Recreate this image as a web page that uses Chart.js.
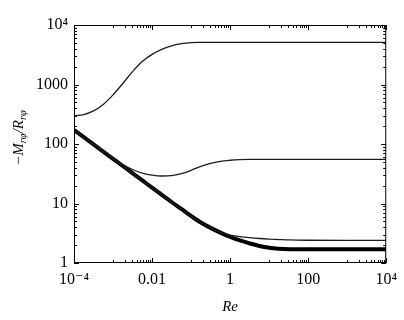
<!DOCTYPE html>
<html>
<head>
<meta charset="utf-8">
<script src="https://cdn.jsdelivr.net/npm/chart.js@4"></script>
<style>
  html, body { margin: 0; padding: 0; background: #fff; }
  #wrap { width: 404px; height: 320px; }
</style>
</head>
<body>
<div id="wrap"><canvas id="chart"></canvas></div>
<script>
// Reynolds number samples (shared by all curves)
const reValues = [1e-4, 1.78e-4, 3.16e-4, 5.62e-4, 1e-3, 1.78e-3, 3.16e-3, 5.62e-3,
    0.01, 0.0178, 0.0316, 0.0562, 0.1, 0.178, 0.316, 0.562,
    1, 1.78, 3.16, 5.62, 10, 17.8, 31.6, 100, 1000, 1e4];

// -M/R for each curve
const upperCurve = [299, 313, 360, 463, 670, 1038, 1644, 2432,
    3206, 3899, 4477, 4853, 5058, 5110, 5120, 5120,
    5120, 5120, 5120, 5120, 5120, 5120, 5120, 5120, 5120, 5120];
const middleCurve = [172, 130, 99, 76.4, 57.5, 45.2, 37.3, 32.5,
    30.0, 29.0, 29.4, 31.8, 36.1, 41.9, 47.3, 51.2,
    53.3, 54.6, 55.2, 55.3, 55.3, 55.3, 55.3, 55.3, 55.3, 55.3];
const lowerCurve = [172, 130, 98.4, 74.5, 56.4, 42.7, 32.3, 24.4,
    18.5, 14.0, 10.6, 8.1, 6.17, 4.79, 3.89, 3.26,
    2.95, 2.77, 2.66, 2.58, 2.52, 2.48, 2.44, 2.41, 2.40, 2.40];
const thickCurve = [172, 130, 98.4, 74.5, 56.4, 42.7, 32.3, 24.4,
    18.5, 14.0, 10.6, 8.1, 6.17, 4.79, 3.89, 3.24,
    2.75, 2.40, 2.14, 1.93, 1.80, 1.74, 1.71, 1.70, 1.70, 1.70];

// axis ticks
const xTicks = [1e-4, 1e-2, 1, 100, 1e4];
const xTickLabels = ['10⁻⁴', '0.01', '1', '100', '10⁴'];
const xMinorTicks = [1e-3, 2e-3, 3e-3, 4e-3, 5e-3, 6e-3, 7e-3, 8e-3, 9e-3,
    0.1, 0.2, 0.3, 0.4, 0.5, 0.6, 0.7, 0.8, 0.9,
    10, 20, 30, 40, 50, 60, 70, 80, 90,
    1000, 2000, 3000, 4000, 5000, 6000, 7000, 8000, 9000];
const yTicks = [1, 10, 100, 1000, 1e4];
const yTickLabels = ['1', '10', '100', '1000', '10⁴'];
const yMinorTicks = [2, 3, 4, 5, 6, 7, 8, 9,
    20, 30, 40, 50, 60, 70, 80, 90,
    200, 300, 400, 500, 600, 700, 800, 900,
    2000, 3000, 4000, 5000, 6000, 7000, 8000, 9000];

const SERIF = '"Liberation Serif", "DejaVu Serif", serif';

const toPoints = (ys) => ys.map((y, i) => ({ x: reValues[i], y: y }));

const curve = (ys, width) => ({
    data: toPoints(ys),
    borderColor: width > 2 ? '#000' : '#1c1c1c',
    borderWidth: width,
    pointRadius: 0,
    fill: false,
    cubicInterpolationMode: 'monotone'
});

// frame, inward ticks on all four sides, and the y axis title with subscripts
const framePlugin = {
    id: 'frame',
    afterDraw(chart) {
        const { ctx, chartArea: a, scales: { x, y } } = chart;
        ctx.save();
        ctx.strokeStyle = '#000';
        ctx.lineWidth = 1;
        ctx.strokeRect(a.left + 0.5, a.top + 0.5, a.right - a.left - 1, a.bottom - a.top - 1);

        ctx.beginPath();
        const vTick = (v, len) => {
            const px = Math.round(x.getPixelForValue(v)) + 0.5;
            ctx.moveTo(px, a.bottom); ctx.lineTo(px, a.bottom - len);
            ctx.moveTo(px, a.top); ctx.lineTo(px, a.top + len);
        };
        const hTick = (v, len) => {
            const py = Math.round(y.getPixelForValue(v)) + 0.5;
            ctx.moveTo(a.left, py); ctx.lineTo(a.left + len, py);
            ctx.moveTo(a.right, py); ctx.lineTo(a.right - len, py);
        };
        xTicks.forEach(v => vTick(v, 5));
        xMinorTicks.forEach(v => vTick(v, 3));
        yTicks.forEach(v => hTick(v, 5));
        yMinorTicks.forEach(v => hTick(v, 3));
        ctx.stroke();

        // y title: -M_{rφ}/R_{rφ}, rotated
        const parts = [
            { t: '−M', size: 15, dy: 0 },
            { t: 'rφ', size: 10.5, dy: 3 },
            { t: '/R', size: 15, dy: 0 },
            { t: 'rφ', size: 10.5, dy: 3 }
        ];
        let total = 0;
        parts.forEach(p => {
            ctx.font = `italic ${p.size}px ${SERIF}`;
            p.w = ctx.measureText(p.t).width;
            total += p.w;
        });
        ctx.translate(23, 138);
        ctx.rotate(-Math.PI / 2);
        ctx.fillStyle = '#000';
        ctx.textBaseline = 'alphabetic';
        ctx.textAlign = 'left';
        let cx = -total / 2;
        parts.forEach(p => {
            ctx.font = `italic ${p.size}px ${SERIF}`;
            ctx.fillText(p.t, cx, p.dy);
            cx += p.w;
        });
        ctx.restore();
    }
};

new Chart(document.getElementById('chart'), {
    type: 'line',
    data: {
        datasets: [
            curve(upperCurve, 1.3),
            curve(middleCurve, 1.3),
            curve(lowerCurve, 1.3),
            curve(thickCurve, 4)
        ]
    },
    options: {
        responsive: true,
        maintainAspectRatio: false,
        animation: false,
        layout: { padding: { left: 0, top: 25, right: 14, bottom: 0 } },
        plugins: {
            legend: { display: false },
            tooltip: { enabled: false }
        },
        scales: {
            x: {
                type: 'logarithmic',
                min: 1e-4,
                max: 1e4,
                grid: { display: false, drawTicks: false },
                border: { display: false },
                afterBuildTicks: (scale) => { scale.ticks = xTicks.map(v => ({ value: v })); },
                afterFit: (scale) => { scale.height = 57; },
                ticks: {
                    autoSkip: false,
                    maxRotation: 0,
                    padding: 7,
                    color: '#000',
                    font: { family: SERIF, size: 16 },
                    callback: (val, i) => xTickLabels[i]
                },
                title: {
                    display: true,
                    text: 'Re',
                    color: '#000',
                    font: { family: SERIF, size: 15, style: 'italic' },
                    padding: { top: 0, bottom: 4 }
                }
            },
            y: {
                type: 'logarithmic',
                min: 1,
                max: 1e4,
                grid: { display: false, drawTicks: false },
                border: { display: false },
                afterBuildTicks: (scale) => { scale.ticks = yTicks.map(v => ({ value: v })); },
                afterFit: (scale) => { scale.width = 74; },
                ticks: {
                    autoSkip: false,
                    padding: 6,
                    color: '#000',
                    font: { family: SERIF, size: 16 },
                    callback: (val, i) => yTickLabels[i]
                }
            }
        }
    },
    plugins: [framePlugin]
});
</script>
</body>
</html>
